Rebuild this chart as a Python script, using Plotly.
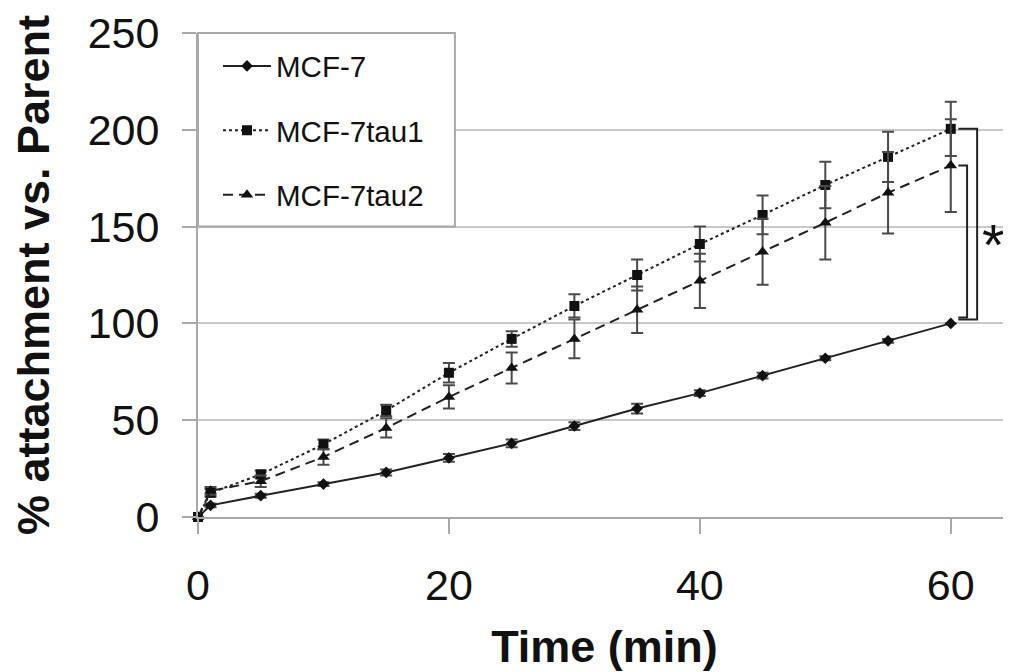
import plotly.graph_objects as go

# ---- data ----
time_min = [0, 1, 5, 10, 15, 20, 25, 30, 35, 40, 45, 50, 55, 60]
mcf7 = [0, 6, 11, 17, 23, 30.5, 38, 47, 56, 64, 73, 82, 91, 100]
mcf7_err = [0, 1, 1, 1, 1.5, 2, 2, 2, 2.5, 1.5, 1.5, 1, 1, 0]
tau1 = [0, 12.5, 22, 37.5, 55, 74.5, 92, 109, 125, 141, 156, 171.5, 186, 200.5]
tau1_err = [0, 2, 2, 2.5, 3, 5, 4, 6, 8, 9, 10, 12, 13, 14]
tau2 = [0, 13.5, 18.5, 31, 46, 62, 77, 92, 107, 122, 137, 152, 167.5, 181.5]
tau2_err = [0, 2, 3, 4, 5, 6, 8, 10, 12, 14, 17, 19, 21, 24]
names = ["MCF-7", "MCF-7tau1", "MCF-7tau2"]
x_ticks = [0, 20, 40, 60]
y_ticks = [0, 50, 100, 150, 200, 250]

FONT = "Liberation Sans, Arial, sans-serif"
LINE_C = "#222222"
ERR_C = "#4a4a4a"
GRID_C = "#c8c8c8"
AXIS_C = "#a8a8a8"

fig = go.Figure()

series = [
    (names[0], mcf7, mcf7_err, "solid", "diamond", 9),
    (names[1], tau1, tau1_err, "dot", "square", 10),
    (names[2], tau2, tau2_err, "10px,6px", "triangle-up", 11),
]
for i, (nm, ys, es, dash, sym, msz) in enumerate(series):
    fig.add_trace(go.Scatter(
        x=time_min, y=ys, name=nm, mode="lines+markers",
        legendgroup=f"g{i}", cliponaxis=False,
        line=dict(color=LINE_C, width=2, dash=dash),
        marker=dict(symbol=sym, size=msz, color="#111111"),
        error_y=dict(type="data", array=es, visible=True,
                     color=ERR_C, thickness=2, width=6),
    ))

# significance brackets (derived from the end values)
t_end = time_min[-1]
low = mcf7[-1] + 2
x_left = t_end + 0.6
shapes = [
    # legend frame (white box hiding the gridlines behind the legend)
    dict(type="rect", xref="paper", yref="paper", x0=0, x1=0.316, y0=0.6, y1=1,
         fillcolor="white", line=dict(color=AXIS_C, width=2), layer="above"),
    dict(type="path", xref="x", yref="y",
         path=f"M {x_left},{tau1[-1]} L {t_end + 2.1},{tau1[-1]} L {t_end + 2.1},{low} L {x_left},{low}",
         line=dict(color=LINE_C, width=2)),
    dict(type="path", xref="x", yref="y",
         path=f"M {x_left},{tau2[-1]} L {t_end + 1.3},{tau2[-1]} L {t_end + 1.3},{low + 1} L {x_left},{low + 1}",
         line=dict(color=LINE_C, width=2)),
]

fig.update_layout(
    width=1003, height=664,
    margin=dict(l=190, r=0, t=25, b=155),
    paper_bgcolor="white", plot_bgcolor="white",
    font=dict(family=FONT, color="#111111"),
    showlegend=True,
    legend=dict(
        x=0.0246, y=0.985, xanchor="left", yanchor="top",
        bgcolor="rgba(0,0,0,0)", borderwidth=0,
        font=dict(size=29.5, family=FONT, color="#111111"),
        traceorder="grouped", tracegroupgap=23, itemwidth=48,
    ),
    shapes=shapes,
    annotations=[dict(x=t_end + 3.4, y=141, xref="x", yref="y", text="*",
                      showarrow=False, font=dict(size=58, family=FONT, color="#111111"),
                      xanchor="center", yanchor="middle")],
)

fig.update_xaxes(
    range=[0, 64.8], tickvals=x_ticks, ticktext=[str(v) for v in x_ticks],
    showgrid=False, zeroline=False, automargin=False,
    showline=True, linecolor=AXIS_C, linewidth=2,
    ticks="outside", ticklen=15, tickcolor=AXIS_C, tickwidth=2,
    tickfont=dict(size=43, family=FONT, color="#111111"),
    ticklabelstandoff=14,
    title=dict(text="<b>Time (min)</b>", font=dict(size=45, family=FONT, color="#111111"), standoff=24),
)
fig.update_yaxes(
    range=[0, 250], tickvals=y_ticks, ticktext=[str(v) for v in y_ticks],
    showgrid=True, gridcolor=GRID_C, gridwidth=2, zeroline=False, automargin=False,
    showline=True, linecolor=AXIS_C, linewidth=2,
    ticks="outside", ticklen=14, tickcolor=AXIS_C, tickwidth=2,
    tickfont=dict(size=43, family=FONT, color="#111111"),
    ticklabelstandoff=14,
    title=dict(text="<b>% attachment vs. Parent</b>", font=dict(size=45, family=FONT, color="#111111"), standoff=24),
)

fig.write_html("out.html")
